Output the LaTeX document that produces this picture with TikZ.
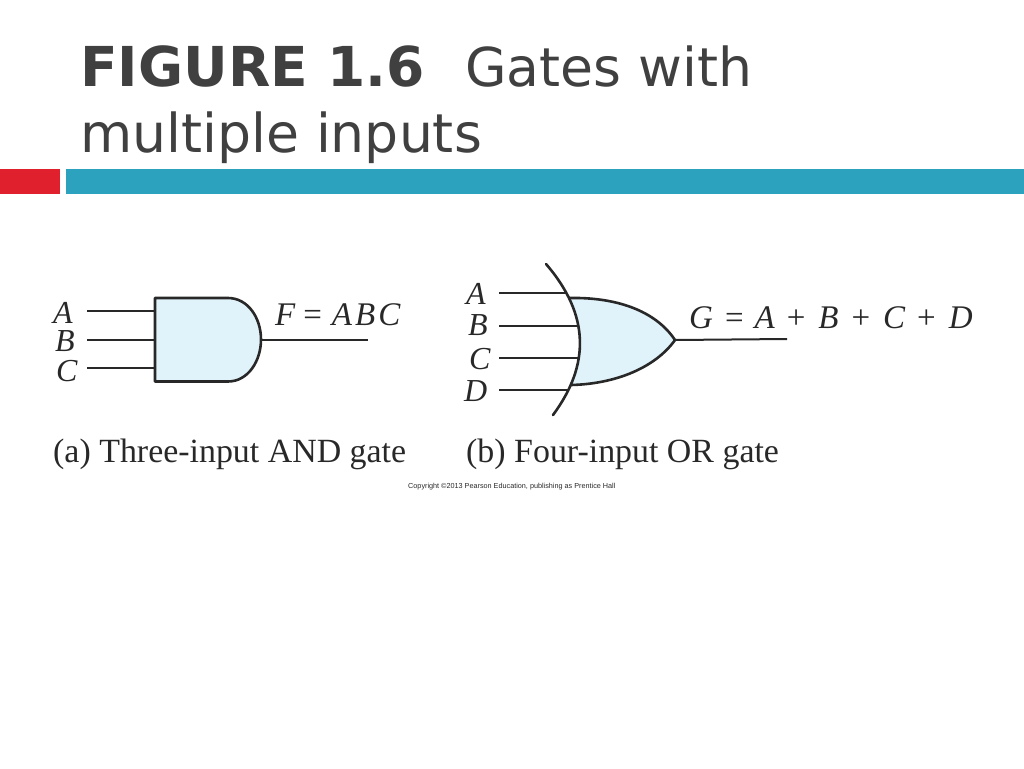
\documentclass[tikz,border=0pt]{standalone}
\usepackage{fontspec}
\setmainfont{Liberation Serif}
\newfontfamily\titlefont{DejaVu Sans}
\newfontfamily\notefont{Liberation Sans}
\definecolor{titlegray}{RGB}{64,64,64}
\definecolor{barred}{RGB}{224,32,44}
\definecolor{barblue}{RGB}{44,162,190}
\definecolor{gatefill}{RGB}{224,242,250}
\definecolor{wiregray}{RGB}{40,40,40}
\newcommand{\up}[1]{{\upshape #1}}
\tikzset{
  txt/.style={anchor=base west,inner sep=0pt,text=wiregray},
  title/.style={anchor=base west,inner sep=0pt,text=titlegray,font=\titlefont\fontsize{53.6}{53.6}\selectfont},
  sig/.style={txt,font=\itshape\fontsize{32}{32}\selectfont},
  formula/.style={txt,font=\itshape\fontsize{33}{33}\selectfont},
  caption/.style={txt,font=\fontsize{33.9}{33.9}\selectfont},
  wire/.style={line width=2pt,draw=wiregray},
  gate/.style={line width=2.6pt,draw=wiregray,line join=round},
}
\begin{document}
\begin{tikzpicture}[x=1pt,y=-1pt]
\useasboundingbox (0,0) rectangle (1024,768);
% header
\node[title,font=\titlefont\bfseries\fontsize{55}{55}\selectfont] (head) at (80,86) {FIGURE 1.6};
\node[title] (headb) at (465,86) {Gates with};
\node[title] (headc) at (80,152) {multiple inputs};
\fill[barred] (0,169) rectangle (60,194);
\fill[barblue] (66,169) rectangle (1024,194);

% AND gate
\coordinate (andia) at (87,311);
\coordinate (andib) at (87,339.5);
\coordinate (andic) at (87,367.5);
\coordinate (andoa) at (155,311);
\coordinate (andob) at (155,339.5);
\coordinate (andoc) at (155,367.5);
\coordinate (andout) at (261,339.5);
\coordinate (andend) at (368,339.5);
\draw[wire] (andia) -- (andoa);
\draw[wire] (andib) -- (andob);
\draw[wire] (andic) -- (andoc);
\draw[wire] (andout) -- (andend);
\draw[gate,fill=gatefill] (155,298) -- (228,298) .. controls (248,298) and (261,318) .. (andout)
  .. controls (261,361) and (248,381.5) .. (228,381.5) -- (155,381.5) -- cycle;
\node[sig] (anda) at (53,323) {A};
\node[sig] (andb) at (55,351.5) {B};
\node[sig] (andc) at (56,381) {C};
\node[formula] (andf) at (275,325) {F\kern8pt\up{=}\kern10pt A\kern3pt B\kern3pt C};
\node[caption] (capa) at (53,462) {(a) Three-input AND gate};

% OR gate
\coordinate (oria) at (499,293);
\coordinate (orib) at (499,325.5);
\coordinate (oric) at (499,358);
\coordinate (orid) at (499,390);
\coordinate (oroa) at (566,293);
\coordinate (orob) at (577,325.5);
\coordinate (oroc) at (578,358);
\coordinate (orod) at (569,390);
\coordinate (orout) at (675,340);
\coordinate (orend) at (787,339);
\draw[wire] (oria) -- (oroa);
\draw[wire] (orib) -- (orob);
\draw[wire] (oric) -- (oroc);
\draw[wire] (orid) -- (orod);
\draw[wire] (orout) -- (orend);
\fill[gatefill] (569,298) .. controls (615,297) and (655,310) .. (orout)
  .. controls (655,368) and (615,384) .. (571,385)
  .. controls (583,358) and (583,325) .. (569,298) -- cycle;
\draw[gate] (569,298) .. controls (615,297) and (655,310) .. (orout)
  .. controls (655,368) and (615,384) .. (571,385);
\draw[gate,line cap=round] (546,264) .. controls (590,315) and (590,365) .. (553,415);
\node[sig] (ora) at (466,304.5) {A};
\node[sig] (orb) at (468,335.5) {B};
\node[sig] (orc) at (469,369.5) {C};
\node[sig] (ord) at (464,401.5) {D};
\node[formula] (org) at (689,328) {G\kern12pt\up{=}\kern11pt A\kern12pt\up{+}\kern13pt B\kern13pt\up{+}\kern13pt C\kern12pt\up{+}\kern13pt D};
\node[caption] (capb) at (466,462) {(b) Four-input OR gate};
\node[txt,font=\notefont\fontsize{7.25}{7.25}\selectfont] (note) at (408,488) {Copyright \textcopyright2013 Pearson Education, publishing as Prentice Hall};
\end{tikzpicture}
\end{document}
